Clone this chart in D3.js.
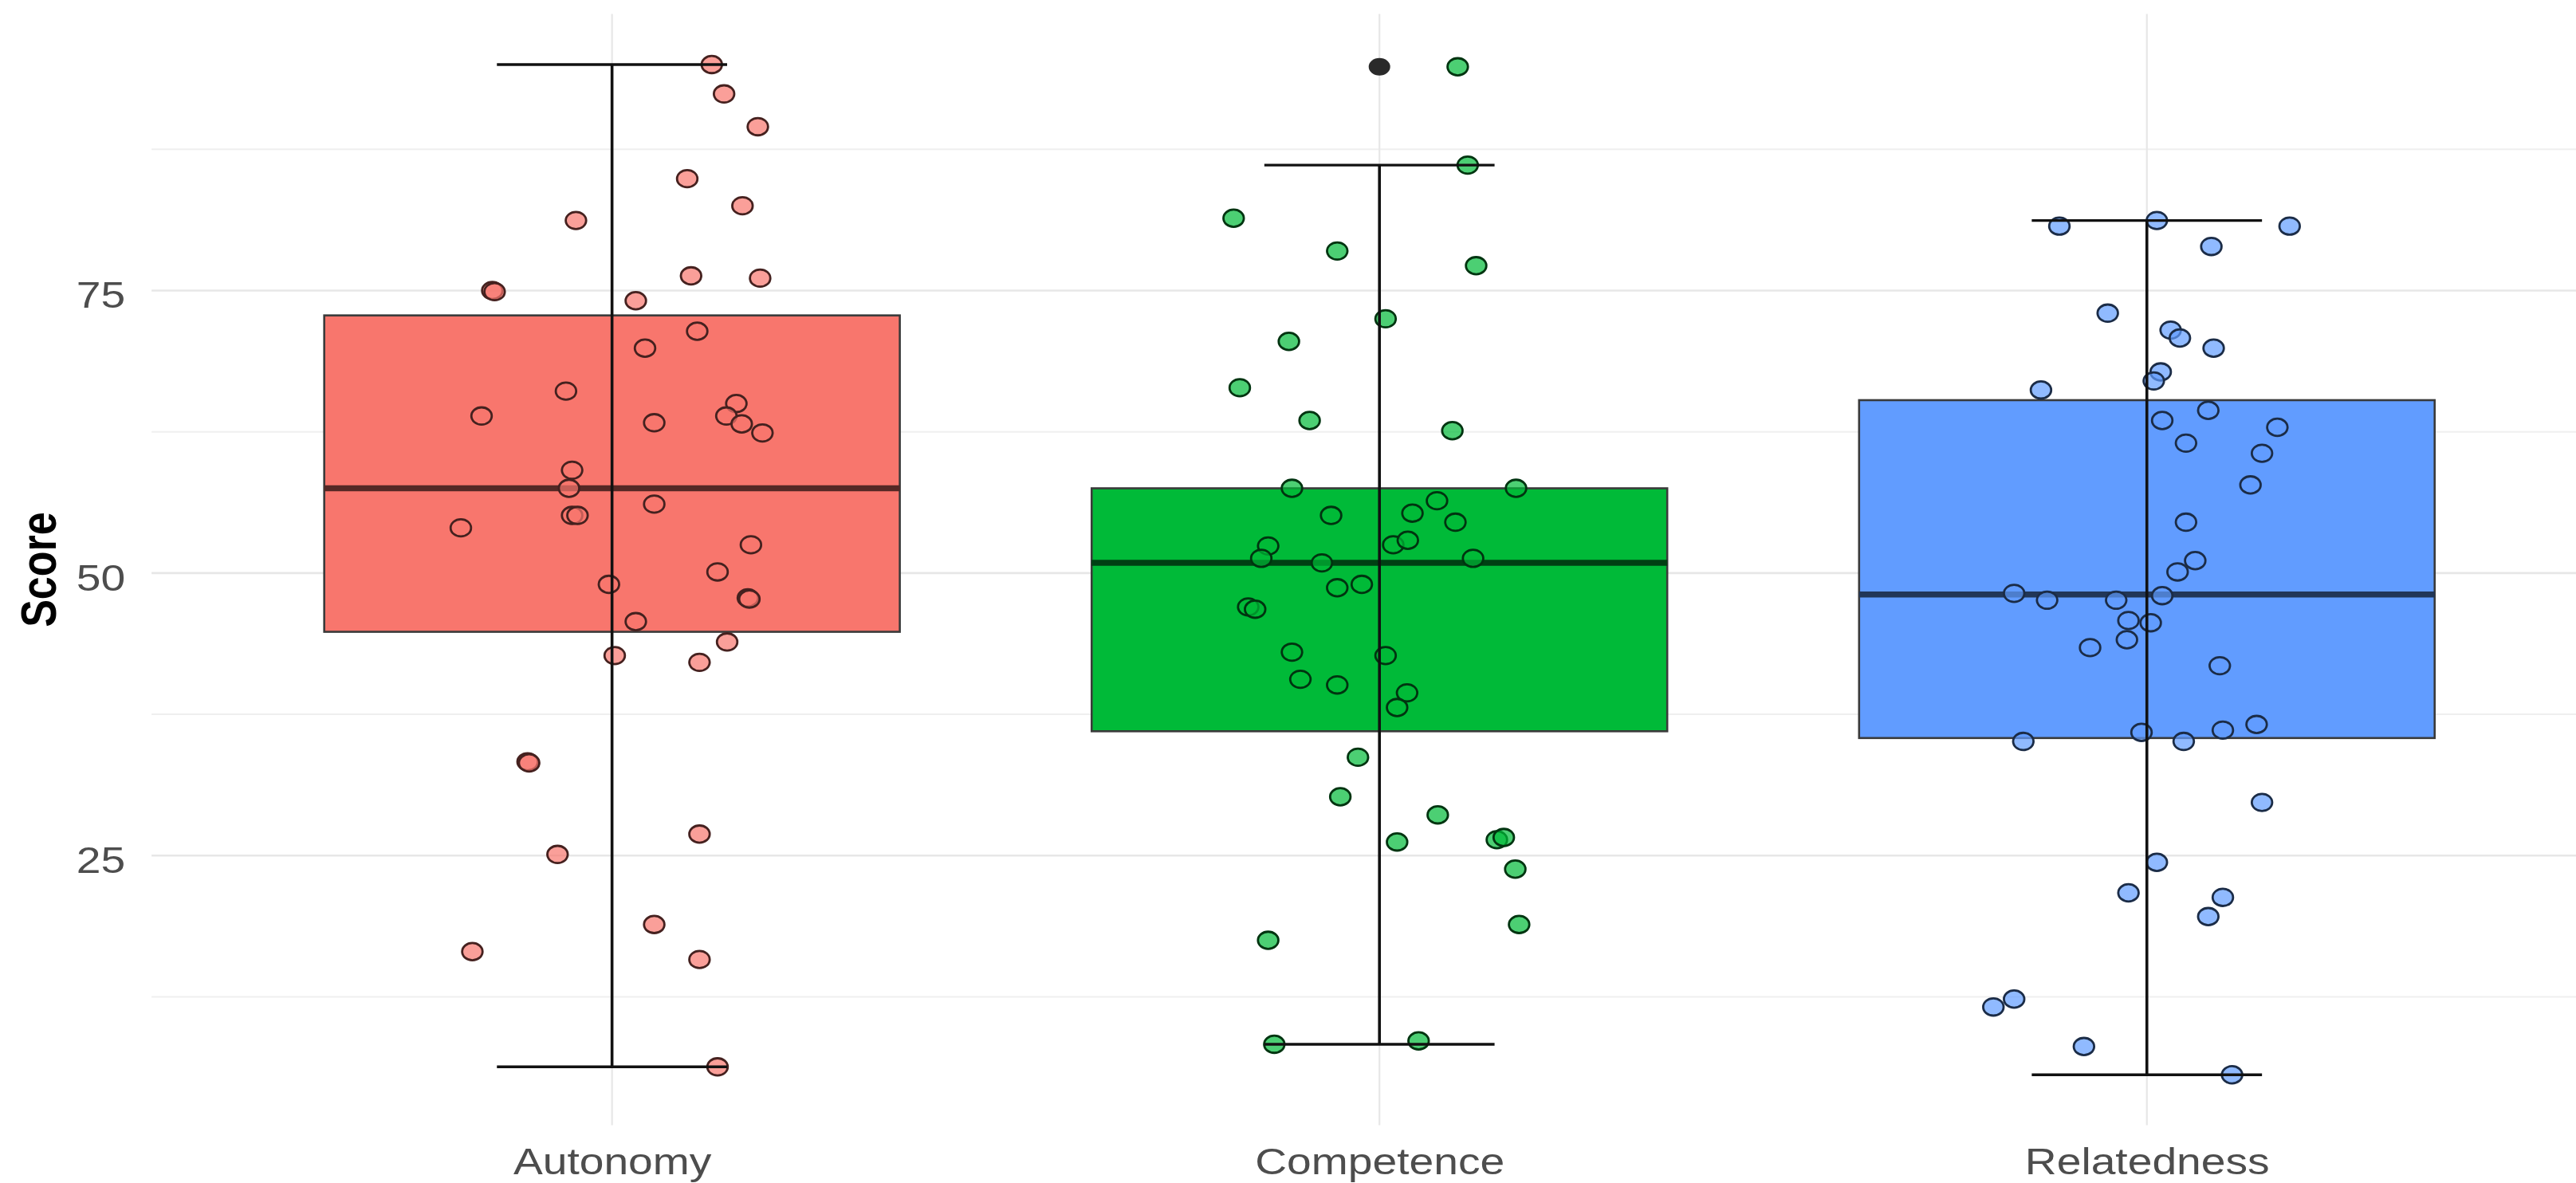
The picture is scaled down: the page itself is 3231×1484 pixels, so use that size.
<!DOCTYPE html>
<html>
<head>
<meta charset="utf-8">
<script src="https://cdn.jsdelivr.net/npm/d3@7"></script>
<style>
  html, body { margin: 0; padding: 0; background: #ffffff; }
  svg { display: block; }
</style>
</head>
<body>
<script>
// ---- data ----
const categories = ["Autonomy", "Competence", "Relatedness"];

// box summaries per category
const whiskerLow    = [6.3, 8.3, 5.6];
const lowerQuartile = [44.8, 36.0, 35.4];
const medians       = [57.5, 50.9, 48.1];
const upperQuartile = [72.8, 57.5, 65.3];
const whiskerHigh   = [95.0, 86.1, 81.2];
const outliers      = [[], [94.8], []];

// individual scores with their horizontal jitter (in category units)
const autonomyScores = [95.0, 92.4, 89.5, 84.9, 82.5, 81.2, 76.3, 76.1, 75.0, 74.9, 74.1, 71.4, 69.9, 66.1, 63.9,
  63.3, 65.0, 63.9, 63.2, 62.4, 59.1, 57.5, 55.1, 55.1, 56.1, 54.0, 52.5, 50.1, 49.0, 47.8, 47.7, 45.7, 43.9, 42.7,
  42.1, 33.3, 33.2, 26.9, 25.1, 18.9, 16.5, 15.8, 6.3];
const autonomyJitter = [0.130, 0.146, 0.190, 0.098, 0.170, -0.047, 0.103, 0.193, -0.156, -0.153, 0.031, 0.111, 0.043,
  -0.060, -0.170, 0.055, 0.162, 0.149, 0.169, 0.196, -0.052, -0.056, -0.052, -0.045, 0.055, -0.197, 0.181, 0.1375,
  -0.004, 0.177, 0.179, 0.031, 0.150, 0.0035, 0.114, -0.110, -0.108, 0.114, -0.071, 0.055, -0.182, 0.114, 0.1375];

const competenceScores = [94.8, 86.1, 81.4, 78.5, 77.2, 72.5, 70.5, 66.4, 63.5, 62.6, 57.5, 57.5, 56.4, 55.1, 55.3,
  54.5, 52.4, 52.5, 52.9, 51.3, 50.9, 51.3, 48.7, 49.0, 47.0, 46.8, 43.0, 42.7, 40.6, 40.1, 39.4, 38.1, 33.7, 30.2,
  28.6, 26.2, 26.4, 26.6, 23.8, 18.9, 17.5, 8.3, 8.6];
const competenceJitter = [0.102, 0.115, -0.190, -0.055, 0.126, 0.008, -0.118, -0.182, -0.091, 0.095, -0.114, 0.178,
  0.075, -0.063, 0.043, 0.099, -0.145, 0.018, 0.037, -0.154, -0.075, 0.122, -0.055, -0.023, -0.171, -0.162, -0.114,
  0.008, -0.103, -0.055, 0.036, 0.023, -0.028, -0.051, 0.076, 0.023, 0.153, 0.162, 0.177, 0.182, -0.145, -0.137, 0.051];

const relatednessScores = [80.7, 81.2, 80.7, 78.9, 73.0, 71.5, 70.8, 69.9, 67.8, 67.0, 66.2, 64.4, 63.5, 62.9, 61.5,
  60.6, 57.8, 54.5, 51.1, 50.1, 48.2, 47.6, 47.6, 48.0, 45.8, 45.6, 44.1, 43.4, 41.8, 36.6, 36.1, 35.9, 35.1, 35.1,
  29.7, 24.4, 21.7, 21.3, 19.6, 12.3, 11.6, 8.1, 5.6];
const relatednessJitter = [-0.114, 0.013, 0.186, 0.084, -0.051, 0.031, 0.043, 0.087, 0.018, 0.009, -0.138, 0.080,
  0.020, 0.170, 0.051, 0.150, 0.135, 0.051, 0.063, 0.040, -0.173, -0.130, -0.040, 0.020, -0.024, 0.005, -0.026,
  -0.074, 0.095, 0.143, 0.099, -0.007, -0.161, 0.048, 0.150, 0.013, -0.024, 0.099, 0.080, -0.173, -0.200, -0.082, 0.111];

const yTicks = [25, 50, 75];
const yMinorTicks = [12.5, 37.5, 62.5, 87.5];
const yTitle = "Score";

// ---- styling ----
const palette = ["#F8766D", "#00BA38", "#619CFF"];
const W = 3231, H = 1484;
const panel = { left: 190.1, right: 3270.3, top: 17.6, bottom: 1411.6 };
const textStretch = 1.2;      // horizontal stretch of all lettering
const boxWidth = 0.75, capWidth = 0.3;

const scoreSets = [autonomyScores, competenceScores, relatednessScores];
const jitterSets = [autonomyJitter, competenceJitter, relatednessJitter];

const points = [];
scoreSets.forEach((arr, i) => arr.forEach((v, k) => points.push({ cat: i, value: v, jitter: jitterSets[i][k] })));

// ---- scales ----
const allValues = [].concat(whiskerLow, whiskerHigh, ...outliers, ...scoreSets);
const lo = d3.min(allValues), hi = d3.max(allValues), pad = (hi - lo) * 0.05;
const y = d3.scaleLinear().domain([lo - pad, hi + pad]).range([panel.bottom, panel.top]);
const x = d3.scaleLinear().domain([0.4, categories.length + 0.6]).range([panel.left, panel.right]);

const svg = d3.select("body").append("svg").attr("width", W).attr("height", H);

// ---- grid ----
const grid = svg.append("g");
grid.selectAll("line.minor").data(yMinorTicks).join("line")
  .attr("x1", panel.left).attr("x2", panel.right)
  .attr("y1", d => y(d)).attr("y2", d => y(d))
  .attr("stroke", "#efefef").attr("stroke-width", 2);
grid.selectAll("line.major").data(yTicks).join("line")
  .attr("x1", panel.left).attr("x2", panel.right)
  .attr("y1", d => y(d)).attr("y2", d => y(d))
  .attr("stroke", "#e7e7e7").attr("stroke-width", 2.6);
grid.selectAll("line.vert").data(categories).join("line")
  .attr("x1", (d, i) => x(i + 1)).attr("x2", (d, i) => x(i + 1))
  .attr("y1", panel.top).attr("y2", panel.bottom)
  .attr("stroke", "#e7e7e7").attr("stroke-width", 2.2);

// ---- boxes ----
const boxes = svg.append("g");
boxes.selectAll("rect").data(categories).join("rect")
  .attr("x", (d, i) => x(i + 1 - boxWidth / 2))
  .attr("width", (d, i) => x(i + 1 + boxWidth / 2) - x(i + 1 - boxWidth / 2))
  .attr("y", (d, i) => y(upperQuartile[i]))
  .attr("height", (d, i) => y(lowerQuartile[i]) - y(upperQuartile[i]))
  .attr("fill", (d, i) => palette[i])
  .attr("stroke", "#3a3a3a").attr("stroke-width", 2.6);
boxes.selectAll("line.median").data(categories).join("line")
  .attr("x1", (d, i) => x(i + 1 - boxWidth / 2)).attr("x2", (d, i) => x(i + 1 + boxWidth / 2))
  .attr("y1", (d, i) => y(medians[i])).attr("y2", (d, i) => y(medians[i]))
  .attr("stroke", (d, i) => d3.color(palette[i]).darker(3).formatHex())
  .attr("stroke-width", 7.5);

// outliers from the box summary
const outlierData = [];
outliers.forEach((arr, i) => arr.forEach(v => outlierData.push({ cat: i, value: v })));
svg.append("g").selectAll("ellipse").data(outlierData).join("ellipse")
  .attr("cx", d => x(d.cat + 1)).attr("cy", d => y(d.value))
  .attr("rx", 13.5).attr("ry", 11)
  .attr("fill", "#2a2a2a");

// ---- jittered points ----
svg.append("g").selectAll("ellipse").data(points).join("ellipse")
  .attr("cx", d => x(d.cat + 1 + d.jitter)).attr("cy", d => y(d.value))
  .attr("rx", 12.8).attr("ry", 10.8)
  .attr("fill", d => palette[d.cat]).attr("fill-opacity", 0.7)
  .attr("stroke", d => d3.interpolateRgb("#000000", palette[d.cat])(0.28))
  .attr("stroke-width", 2.8);

// ---- whiskers drawn as error bars ----
const bars = svg.append("g").attr("stroke", "#111111");
bars.selectAll("line.stem").data(categories).join("line")
  .attr("x1", (d, i) => x(i + 1)).attr("x2", (d, i) => x(i + 1))
  .attr("y1", (d, i) => y(whiskerHigh[i])).attr("y2", (d, i) => y(whiskerLow[i]))
  .attr("stroke-width", 3.6);
[whiskerHigh, whiskerLow].forEach(arr => {
  bars.append("g").selectAll("line").data(categories).join("line")
    .attr("x1", (d, i) => x(i + 1 - capWidth / 2)).attr("x2", (d, i) => x(i + 1 + capWidth / 2))
    .attr("y1", (d, i) => y(arr[i])).attr("y2", (d, i) => y(arr[i]))
    .attr("stroke-width", 3.4);
});

// ---- axes ----
const font = "'Liberation Sans', Arial, sans-serif";
const labelBaseline = 1473;
const xAxis = svg.append("g").attr("transform", `translate(0,${panel.bottom})`)
  .call(d3.axisBottom(x).tickValues(categories.map((d, i) => i + 1))
    .tickFormat((d) => categories[d - 1]).tickSize(0));
xAxis.select(".domain").remove();
xAxis.selectAll("text")
  .attr("y", 0).attr("dy", null)
  .attr("transform", `translate(0,${labelBaseline - panel.bottom}) scale(${textStretch},1)`)
  .attr("font-family", font).attr("font-size", 46).attr("fill", "#4d4d4d")
  .attr("text-anchor", "middle");

const yAxis = svg.append("g").attr("transform", `translate(${panel.left},0)`)
  .call(d3.axisLeft(y).tickValues(yTicks).tickFormat(d3.format("d")).tickSize(0));
yAxis.select(".domain").remove();
yAxis.selectAll("text")
  .attr("x", 0).attr("dy", "0.46em")
  .attr("transform", `translate(-33,0) scale(${textStretch},1)`)
  .attr("font-family", font).attr("font-size", 46).attr("fill", "#4d4d4d")
  .attr("text-anchor", "end");

svg.append("text")
  .attr("transform", `translate(70,${(panel.top + panel.bottom) / 2}) scale(${textStretch},1) rotate(-90)`)
  .attr("text-anchor", "middle")
  .attr("font-family", font).attr("font-size", 52).attr("font-weight", "bold")
  .attr("fill", "#000000")
  .text(yTitle);
</script>
</body>
</html>
